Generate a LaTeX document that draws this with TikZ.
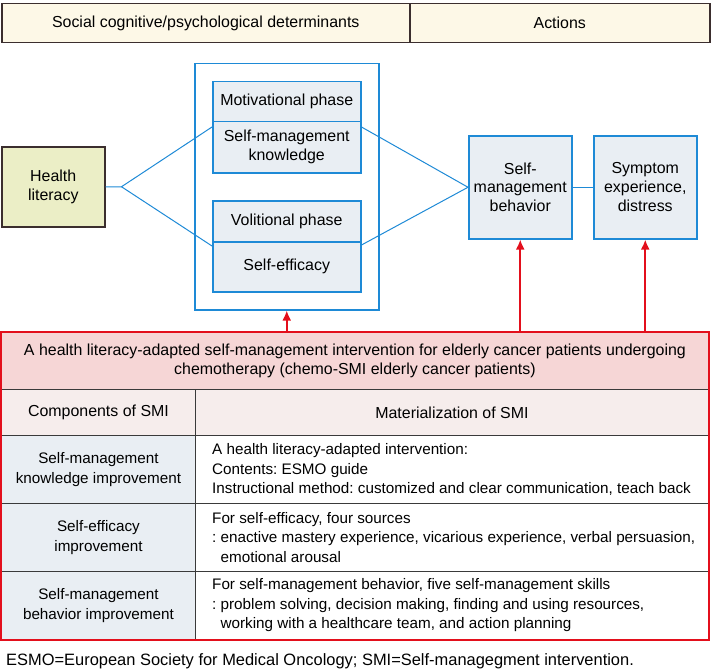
\documentclass[tikz,border=0pt]{standalone}
\usepackage{fontspec}
\setmainfont{Liberation Sans}
\usetikzlibrary{positioning, calc, arrows.meta}
\definecolor{hdrfill}{HTML}{FDF8E7}
\definecolor{hdrline}{HTML}{3B2E2E}
\definecolor{hlfill}{HTML}{EBEEC6}
\definecolor{bluel}{HTML}{1E8AD6}
\definecolor{boxfill}{HTML}{E9EEF3}
\definecolor{redl}{HTML}{E30F1C}
\definecolor{titlefill}{HTML}{F6D6D6}
\definecolor{headfill}{HTML}{F6EDEC}
\definecolor{gridl}{HTML}{3A3A3A}
\newcommand{\rowfont}{\fontsize{15.3}{19.5}\selectfont\frenchspacing}

\begin{document}
\begin{tikzpicture}[x=1bp, y=-1bp, font=\fontsize{16}{19}\selectfont\frenchspacing,
		cell/.style={draw=gridl, line width=0.9bp, inner sep=0, anchor=north west, align=center},
		bluebox/.style={draw=bluel, line width=1.5bp, fill=boxfill, inner sep=0, anchor=north west, align=center},
		link/.style={draw=bluel, line width=1bp},
		push/.style={draw=redl, line width=2bp, -{Latex[length=10bp, width=9bp]}}]
			\useasboundingbox (0,0) rectangle (711,672);
			
			% header
			\node[cell, draw=hdrline, line width=1.5bp, fill=hdrfill, minimum width=408bp, minimum height=39bp] (det) at (1,3) {Social cognitive/psychological determinants};
			\node[cell, draw=hdrline, line width=1.5bp, fill=hdrfill, minimum width=300bp, minimum height=39bp] (act) at (409,3) {Actions};
			
			% determinants
			\node[draw=bluel, line width=1.5bp, inner sep=0, anchor=north west, minimum width=184bp, minimum height=246bp] (dets) at (194,63) {};
			\node[bluebox, minimum width=148bp, minimum height=40bp] (mot) at (212,81) {Motivational phase};
			\node[bluebox, minimum width=148bp, minimum height=51bp] (smk) at (212,121) {Self-management\\knowledge};
			\node[bluebox, minimum width=148bp, minimum height=41bp] (vol) at (212,200) {Volitional phase};
			\node[bluebox, minimum width=148bp, minimum height=50bp] (sef) at (212,241) {Self-efficacy};
			
			\node[cell, draw=hdrline, line width=1.5bp, fill=hlfill, minimum width=103bp, minimum height=80bp] (hl) at (1,146) {Health\\literacy};
			
			% actions
			\node[bluebox, minimum width=103bp, minimum height=103bp] (smb) at (468,135) {Self-\\management\\behavior};
			\node[bluebox, minimum width=103bp, minimum height=103bp] (sym) at (593,135) {Symptom\\experience,\\distress};
			
			% links
			\coordinate (jn) at ([xshift=16bp]hl.east);
			\draw[link] (hl.east) -- (jn) -- ([yshift=-6bp]smk.north west);
			\draw[link] (jn) -- ([yshift=-5bp]sef.north west);
			\draw[link] ([yshift=-6bp]smk.north east) -- (smb.west);
			\draw[link] ([yshift=-4bp]sef.north east) -- (smb.west);
			\draw[link] (smb) -- (sym);
			
			% intervention table
			\node[cell, fill=titlefill, minimum width=707bp, minimum height=57bp] (title) at (1,332) {A health literacy-adapted self-management intervention for elderly cancer patients undergoing\\chemotherapy (chemo-SMI elderly cancer patients)};
			\node[cell, fill=headfill, minimum width=194bp, minimum height=46bp] (hda) at (1,389) {Components of SMI};
			\node[cell, fill=headfill, minimum width=513bp, minimum height=46bp] (hdb) at (195,389) {Materialization of SMI};
			\node[cell, fill=boxfill, minimum width=194bp, minimum height=68bp, font=\rowfont] (ra) at (1,435) {Self-management\\knowledge improvement};
			\node[cell, minimum width=513bp, minimum height=68bp] (rb) at (195,435) {};
			\node[cell, fill=boxfill, minimum width=194bp, minimum height=68bp, font=\rowfont] (sa) at (1,503) {Self-efficacy\\improvement};
			\node[cell, minimum width=513bp, minimum height=68bp] (sb) at (195,503) {};
			\node[cell, fill=boxfill, minimum width=194bp, minimum height=68bp, font=\rowfont] (ta) at (1,571) {Self-management\\behavior improvement};
			\node[cell, minimum width=513bp, minimum height=68bp] (tb) at (195,571) {};
			\draw[redl, line width=2bp] (title.north west) rectangle (tb.south east);
			
			\node[anchor=west, align=left, inner sep=0, font=\rowfont] (rtxt) at ([xshift=17bp]rb.west) {A health literacy-adapted intervention:\\Contents: ESMO guide\\Instructional method: customized and clear communication, teach back};
			\node[anchor=west, align=left, inner sep=0, font=\rowfont] (stxt) at ([xshift=17bp]sb.west) {For self-efficacy, four sources\\: enactive mastery experience, vicarious experience, verbal persuasion,\\\phantom{: }emotional arousal};
			\node[anchor=west, align=left, inner sep=0, font=\rowfont] (ttxt) at ([xshift=17bp]tb.west) {For self-management behavior, five self-management skills\\: problem solving, decision making, finding and using resources,\\\phantom{: }working with a healthcare team, and action planning};
			
			% arrows
			\draw[push] (title.north -| dets.south) -- (dets.south);
			\draw[push] (title.north -| smb.south) -- (smb.south);
			\draw[push] (title.north -| sym.south) -- (sym.south);
			
			\node[anchor=west, inner sep=0, font=\fontsize{16.5}{19}\selectfont] (note) at (6,661) {ESMO=European Society for Medical Oncology; SMI=Self-managegment intervention.};
		\end{tikzpicture}
\end{document}
